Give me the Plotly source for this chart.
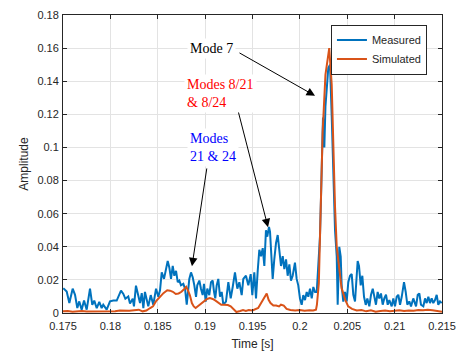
import plotly.graph_objects as go

# ---------------- data ----------------
meas_t = [0.17503, 0.17539, 0.17567, 0.17602, 0.17627, 0.17651, 0.17672, 0.17697, 0.17722, 0.1775,
          0.17785, 0.17809, 0.1783, 0.17856, 0.17883, 0.17908, 0.17925, 0.17961, 0.17996, 0.18031,
          0.18067, 0.18112, 0.18137, 0.18158, 0.18189, 0.18207, 0.18236, 0.18249, 0.1827, 0.18295,
          0.18313, 0.18331, 0.18348, 0.18365, 0.18383, 0.1840, 0.18426, 0.18453, 0.18482, 0.18506,
          0.18524, 0.18542, 0.18566, 0.18587, 0.18605, 0.18622, 0.1864, 0.18658, 0.18675, 0.18693,
          0.18711, 0.18728, 0.18745, 0.1877, 0.18788, 0.18806, 0.18833, 0.18851, 0.18869, 0.18886,
          0.18904, 0.18917, 0.18939, 0.18956, 0.18974, 0.18988, 0.19006, 0.19023, 0.19044, 0.19062,
          0.1908, 0.19094, 0.19107, 0.19122, 0.19139, 0.19157, 0.19175, 0.19192, 0.1922, 0.19245,
          0.1927, 0.19291, 0.19315, 0.1934, 0.19361, 0.19386, 0.19403, 0.19431, 0.19456, 0.19481,
          0.19498, 0.19519, 0.19537, 0.19555, 0.19572, 0.1959, 0.19608, 0.19625, 0.19642, 0.19656,
          0.19674, 0.19685, 0.19699, 0.19713, 0.1973, 0.19748, 0.19766, 0.19783, 0.19801, 0.19819,
          0.19836, 0.19854, 0.19871, 0.19889, 0.19906, 0.19924, 0.19948, 0.19966, 0.19983, 0.20001,
          0.20019, 0.20036, 0.20054, 0.20072, 0.20089, 0.20107, 0.20125, 0.20142, 0.2016, 0.20178,
          0.20195, 0.20212, 0.20223, 0.20234, 0.20244, 0.20258, 0.2027, 0.20300, 0.20318, 0.20336,
          0.20353, 0.20371, 0.20389, 0.20399, 0.20416, 0.20431, 0.20441, 0.20458, 0.20476, 0.20494,
          0.20511, 0.20529, 0.20547, 0.20564, 0.20582, 0.20600, 0.2061, 0.20624, 0.20642, 0.20659,
          0.20677, 0.20695, 0.20712, 0.20733, 0.20751, 0.20769, 0.20786, 0.20803, 0.20821, 0.20838,
          0.20856, 0.20874, 0.20891, 0.20909, 0.20927, 0.20944, 0.20969, 0.20986, 0.21004, 0.21022,
          0.21039, 0.21057, 0.21075, 0.21099, 0.21117, 0.21134, 0.21155, 0.21173, 0.21197, 0.21226,
          0.21244, 0.21261, 0.21278, 0.21303, 0.21321, 0.21338, 0.21356, 0.21373, 0.21391, 0.21408,
          0.21426, 0.21444, 0.21461, 0.21479, 0.21497]
meas_y = [0.015, 0.013, 0.006, 0.0147, 0.011, 0.003, 0.007, 0.002, 0.0076, 0.002,
          0.0147, 0.0049, 0.0075, 0.0029, 0.0067, 0.003, 0.005, 0.002, 0.007, 0.0076,
          0.0075, 0.0135, 0.0115, 0.0086, 0.010, 0.0057, 0.0086, 0.004, 0.0165, 0.011,
          0.006, 0.012, 0.003, 0.0127, 0.0088, 0.004, 0.0108, 0.005, 0.0147, 0.0098,
          0.0137, 0.0245, 0.0206, 0.0255, 0.0314, 0.0275, 0.0206, 0.0284, 0.0225, 0.0255,
          0.0186, 0.0196, 0.0167, 0.0176, 0.0147, 0.005, 0.0206, 0.0245, 0.0216, 0.0167,
          0.0098, 0.0167, 0.0196, 0.0147, 0.0108, 0.0176, 0.0069, 0.0147, 0.0108, 0.0186,
          0.0196, 0.0127, 0.0088, 0.0167, 0.0206, 0.0098, 0.0127, 0.005, 0.0069, 0.0186,
          0.0088, 0.0157, 0.0245, 0.0147, 0.0186, 0.0108, 0.0206, 0.0225, 0.0167, 0.0235,
          0.0108, 0.0245, 0.0088, 0.0255, 0.0382, 0.0343, 0.0392, 0.0284, 0.050, 0.0461,
          0.052, 0.049, 0.0363, 0.0206, 0.0324, 0.0422, 0.0471, 0.0363, 0.0284, 0.0343,
          0.0265, 0.0324, 0.0225, 0.0294, 0.0196, 0.0225, 0.0304, 0.0206, 0.0167, 0.0088,
          0.005, 0.0108, 0.0078, 0.0127, 0.0098, 0.0147, 0.0088, 0.0157, 0.0127, 0.0127,
          0.0304, 0.046, 0.0696, 0.090, 0.118, 0.100, 0.125, 0.148, 0.150, 0.119,
          0.079, 0.050, 0.034, 0.005, 0.040, 0.034, 0.0167, 0.0069, 0.0127, 0.007,
          0.0186, 0.0225, 0.0235, 0.011, 0.007, 0.0206, 0.0314, 0.0284, 0.0167, 0.0225,
          0.0098, 0.0049, 0.0088, 0.004, 0.011, 0.0147, 0.0088, 0.005, 0.0127, 0.0088,
          0.0118, 0.005, 0.0088, 0.011, 0.005, 0.0078, 0.004, 0.0088, 0.004, 0.0098,
          0.011, 0.005, 0.0098, 0.0186, 0.0127, 0.005, 0.007, 0.004, 0.0088, 0.004,
          0.011, 0.0118, 0.005, 0.004, 0.0088, 0.006, 0.0098, 0.006, 0.0088, 0.006,
          0.0078, 0.011, 0.005, 0.007, 0.006]

sim_t = [0.175, 0.1755, 0.176, 0.1765, 0.177, 0.1775, 0.178, 0.1785, 0.179, 0.1795,
         0.180, 0.1805, 0.181, 0.1815, 0.182, 0.1825, 0.183, 0.1834, 0.1838, 0.1842,
         0.1845, 0.1848, 0.1852, 0.1856, 0.186, 0.1863, 0.1866, 0.1869, 0.1872, 0.1875,
         0.1878, 0.188, 0.1882, 0.1884, 0.1886, 0.1888, 0.189, 0.1893, 0.1896, 0.1899,
         0.1902, 0.1905, 0.1908, 0.1911, 0.1914, 0.1917, 0.192, 0.1924, 0.1927, 0.193,
         0.1933, 0.1937, 0.194, 0.1943, 0.1946, 0.195, 0.1953, 0.1956, 0.1958, 0.196,
         0.1963, 0.1965, 0.1967, 0.1969, 0.1972, 0.1975, 0.1978, 0.198, 0.1983, 0.1986,
         0.199, 0.1995, 0.200, 0.2005, 0.201, 0.2014, 0.2017, 0.2018, 0.202, 0.2021,
         0.2024, 0.2027, 0.2031, 0.20336, 0.20353, 0.20371, 0.20389, 0.20416, 0.2044, 0.2048,
         0.2051, 0.2055, 0.206, 0.2065, 0.207, 0.2075, 0.208, 0.2085, 0.209, 0.2095,
         0.210, 0.2105, 0.211, 0.2115, 0.212, 0.2125, 0.213, 0.2135, 0.214, 0.2145, 0.215]
sim_y = [0.001, 0.0012, 0.0008, 0.0011, 0.0012, 0.0009, 0.0009, 0.0012, 0.0011, 0.001,
         0.0013, 0.0011, 0.0015, 0.0012, 0.0013, 0.0017, 0.002, 0.001, 0.0015, 0.003,
         0.004, 0.007, 0.0098, 0.012, 0.0137, 0.0135, 0.0128, 0.0115, 0.0118, 0.0128,
         0.0145, 0.0158, 0.0135, 0.0105, 0.006, 0.004, 0.003, 0.0045, 0.006, 0.0075,
         0.0085, 0.009, 0.0085, 0.0075, 0.006, 0.005, 0.005, 0.0048, 0.004, 0.0025,
         0.0006, 0.0012, 0.0018, 0.0013, 0.0018, 0.0015, 0.0025, 0.003, 0.005, 0.007,
         0.0095, 0.0118, 0.008, 0.006, 0.0045, 0.0045, 0.004, 0.005, 0.0045, 0.0025,
         0.0018, 0.0015, 0.0018, 0.0014, 0.0017, 0.0015, 0.002, 0.005, 0.018, 0.038,
         0.109, 0.144, 0.160, 0.138, 0.099, 0.064, 0.040, 0.026, 0.015, 0.0078,
         0.004, 0.0025, 0.0015, 0.0018, 0.001, 0.0016, 0.0008, 0.0012, 0.0015, 0.001,
         0.0013, 0.0017, 0.0012, 0.0015, 0.0013, 0.0018, 0.0016, 0.0019, 0.0017, 0.0012, 0.0008]

x_tickvals = [0.175, 0.18, 0.185, 0.19, 0.195, 0.2, 0.205, 0.21, 0.215]
x_ticktext = ["0.175", "0.18", "0.185", "0.19", "0.195", "0.2", "0.205", "0.21", "0.215"]
y_tickvals = [0, 0.02, 0.04, 0.06, 0.08, 0.1, 0.12, 0.14, 0.16, 0.18]
y_ticktext = ["0", "0.02", "0.04", "0.06", "0.08", "0.1", "0.12", "0.14", "0.16", "0.18"]

# annotation labels: (text, colour, text x, text y, arrow head x, head y, tail x, tail y, anchor)
labels = [
    ("Mode 7", "black", 0.19062, 0.160, 0.20160, 0.1312, 0.19347, 0.1576, "center"),
    ("Modes 8/21<br>& 8/24", "#ff0000", 0.18777, 0.1324, 0.19664, 0.0518, 0.19315, 0.1294, "left"),
    ("Modes<br>21 & 24", "#0000ff", 0.18809, 0.100, 0.18861, 0.0282, 0.19020, 0.0882, "left"),
]

# ---------------- figure ----------------
fig = go.Figure()
fig.add_trace(go.Scatter(x=meas_t, y=meas_y, mode="lines", name="Measured",
                         line=dict(color="#0072BD", width=2)))
fig.add_trace(go.Scatter(x=sim_t, y=sim_y, mode="lines", name="Simulated",
                         line=dict(color="#D95319", width=2)))

for text, col, tx, ty, hx, hy, ax, ay, anchor in labels:
    fig.add_annotation(x=hx, y=hy, ax=ax, ay=ay, xref="x", yref="y", axref="x", ayref="y",
                       text="", showarrow=True, arrowhead=2, arrowsize=1.7, arrowwidth=1,
                       arrowcolor="black", standoff=0, startstandoff=0)
    fig.add_annotation(x=tx, y=ty, xref="x", yref="y", text=text, showarrow=False,
                       xanchor=anchor, yanchor="middle", align="left",
                       font=dict(family="Liberation Serif, Times New Roman, serif", size=14, color=col),
                       bgcolor="white", borderpad=2)

axis_common = dict(showline=True, linecolor="#262626", linewidth=1, mirror="allticks",
                   ticks="inside", ticklen=4, tickcolor="#262626",
                   showgrid=True, gridcolor="#e3e3e3", gridwidth=1, zeroline=False,
                   tickfont=dict(family="Liberation Sans, Arial, sans-serif", size=11, color="#262626"))

fig.update_xaxes(range=[0.175, 0.215], tickvals=x_tickvals, ticktext=x_ticktext,
                 ticklabelstandoff=3,
                 title=dict(text="Time [s]", standoff=8,
                            font=dict(family="Liberation Sans, Arial, sans-serif", size=12, color="#262626")),
                 **axis_common)
fig.update_yaxes(range=[0, 0.18], tickvals=y_tickvals, ticktext=y_ticktext,
                 ticklabelstandoff=1,
                 title=dict(text="Amplitude", standoff=6,
                            font=dict(family="Liberation Sans, Arial, sans-serif", size=12, color="#262626")),
                 **axis_common)

fig.update_layout(
    width=467, height=358,
    margin=dict(l=63, r=25, t=9, b=43),
    plot_bgcolor="white", paper_bgcolor="white",
    showlegend=True,
    legend=dict(x=0.707, y=0.968, xanchor="left", yanchor="top",
                bgcolor="white", bordercolor="#262626", borderwidth=1,
                font=dict(family="Liberation Sans, Arial, sans-serif", size=11, color="#262626"),
                itemwidth=30, tracegroupgap=0),
)

fig.write_html("out.html")
